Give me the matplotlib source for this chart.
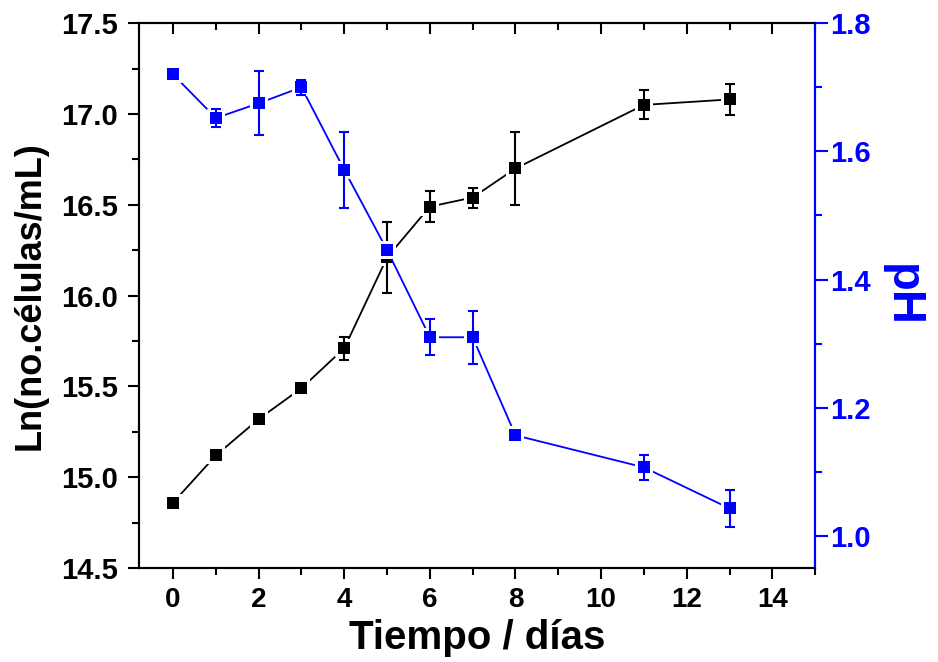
import matplotlib
matplotlib.use("Agg")
import matplotlib.pyplot as plt
from matplotlib.ticker import MultipleLocator

plt.rcParams['font.family'] = ['Liberation Sans', 'DejaVu Sans']
plt.rcParams['font.weight'] = 'bold'

# data
dias = [0, 1, 2, 3, 4, 5, 6, 7, 8, 11, 13]
ln_cel = [14.86, 15.12, 15.32, 15.49, 15.71, 16.21, 16.49, 16.54, 16.70, 17.05, 17.08]
ln_err = [0.02, 0.015, 0.015, 0.01, 0.063, 0.197, 0.087, 0.055, 0.2, 0.08, 0.083]
ph = [1.72, 1.652, 1.675, 1.70, 1.571, 1.446, 1.31, 1.31, 1.157, 1.107, 1.043]
ph_err = [0.004, 0.0145, 0.05, 0.012, 0.059, 0.004, 0.028, 0.041, 0.005, 0.019, 0.029]

blue = '#0000ff'

fig = plt.figure(figsize=(9.38, 6.62), dpi=100)
ax = fig.add_axes([0.148, 0.142, 0.721, 0.823])
ax2 = ax.twinx()


def draw(a, x, y, err, color):
    a.plot(x, y, '-', color=color, lw=1.3, zorder=1)
    a.plot(x, y, 's', color='white', ms=13, mew=0, zorder=2)
    a.errorbar(x, y, yerr=err, fmt='none', ecolor=color, elinewidth=1.5,
               capsize=3.6, capthick=1.5, zorder=3)
    a.plot(x, y, 's', color=color, ms=8, mew=0, zorder=4)


draw(ax, dias, ln_cel, ln_err, 'black')
draw(ax2, dias, ph, ph_err, blue)

ax.set_xlim(-0.8, 15)
ax.set_ylim(14.5, 17.5)
ax2.set_ylim(0.95, 1.8)

ax.xaxis.set_major_locator(MultipleLocator(2))
ax.xaxis.set_minor_locator(MultipleLocator(1))
ax.yaxis.set_minor_locator(MultipleLocator(0.25))
ax2.yaxis.set_major_locator(MultipleLocator(0.2))
ax2.yaxis.set_minor_locator(MultipleLocator(0.1))
ax.set_yticks([14.5, 15.0, 15.5, 16.0, 16.5, 17.0, 17.5])
ax.set_yticklabels(['14.5', '15.0', '15.5', '16.0', '16.5', '17.0', '17.5'])

for s in ax.spines.values():
    s.set_linewidth(1.5)
for s in ax2.spines.values():
    s.set_linewidth(1.5)
ax2.spines['right'].set_color(blue)

ax.tick_params(axis='x', which='major', direction='out', length=8, width=1.5,
               labelsize=20, pad=6, top=True)
ax.tick_params(axis='x', which='minor', direction='out', length=5, width=1.5, top=True)
ax.tick_params(axis='y', which='major', direction='out', length=8, width=1.5,
               labelsize=21, pad=7)
ax.tick_params(axis='y', which='minor', direction='out', length=5, width=1.5)
ax2.tick_params(axis='y', which='major', direction='out', length=9, width=1.5,
                labelsize=21, colors=blue, pad=2)
ax2.tick_params(axis='y', which='minor', direction='out', length=5, width=1.5, colors=blue)

# top ticks point inward
for t in ax.xaxis.get_major_ticks() + ax.xaxis.get_minor_ticks():
    t.tick2line.set_marker(3)

ax.set_xlabel('Tiempo / días', fontsize=29, fontweight='bold', labelpad=4)
ax.set_ylabel('Ln(no.células/mL)', fontsize=26, fontweight='bold', labelpad=10)
ax2.set_ylabel('pH', fontsize=34, fontweight='bold', color=blue, rotation=270,
               labelpad=38)

fig.savefig('out.png', dpi=100)
